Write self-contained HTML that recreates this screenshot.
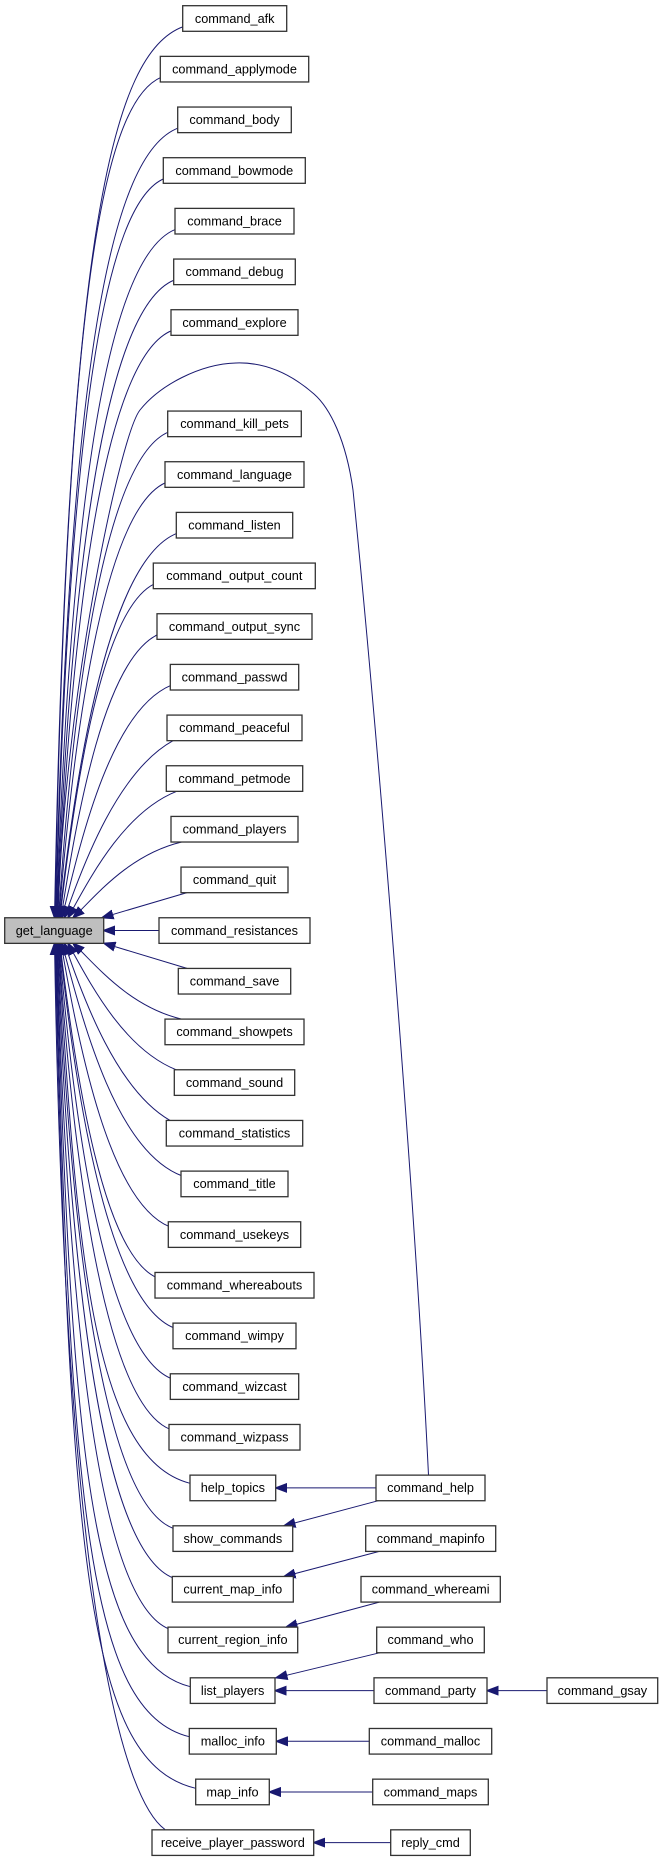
<!DOCTYPE html>
<html><head><meta charset="utf-8"><style>
html,body{margin:0;padding:0;background:#fff;}
svg{display:block;}
text{font-family:"Liberation Sans",Arial,sans-serif;font-size:12.7px;fill:#000;text-anchor:middle;}
rect{fill:#fff;stroke:#333;stroke-width:1.3;}
.e{fill:none;stroke:#191970;stroke-width:1;marker-end:url(#a);}
</style></head><body>
<svg width="672" height="1861" viewBox="0 0 672 1861" xmlns="http://www.w3.org/2000/svg">
<defs>
<marker id="a" markerUnits="userSpaceOnUse" markerWidth="12" markerHeight="10" viewBox="0 0 12 10" refX="11.5" refY="5" orient="auto"><path d="M0,0.5 L12,5 L0,9.5 z" fill="#191970" stroke="#191970" stroke-width="1"/></marker>
</defs>

<!-- upper edges -->
<path class="e" d="M183.7,26.5 C112.6,51.5 67.7,229.8 54.5,917.7"/>
<path class="e" d="M161.3,77.2 C102.8,102.2 66.5,296.3 55,917.7"/>
<path class="e" d="M178.7,127.8 C110.9,152.8 69.5,359.6 55.5,917.7"/>
<path class="e" d="M164.3,178.5 C104.7,203.5 69,419.6 56,917.7"/>
<path class="e" d="M176,229.2 C110.3,254.2 71.5,476.3 56.5,917.7"/>
<path class="e" d="M174.7,279.9 C110,304.9 72.5,529.7 57,917.7"/>
<path class="e" d="M172,330.5 C109,355.5 73.2,579.6 57.5,917.7"/>
<path class="e" d="M428.5,1475 C415,1200 380,760 353,490 C346,440 330,408 314,394 C290,373 264,362 236,363 C200,364 160,385 140,410 C120,435 64,700 58,917.7"/>
<path class="e" d="M168.7,431.9 C108.1,456.9 74.9,670.1 58.5,917.7"/>
<path class="e" d="M166,482.5 C107.2,507.5 75.6,709.9 59,917.7"/>
<path class="e" d="M177.3,533.2 C112.5,558.2 78.4,746.8 59.5,917.7"/>
<path class="e" d="M154.3,583.9 C102.4,608.9 75.7,780.3 60,917.7"/>
<path class="e" d="M158,634.5 C104.7,659.5 77.7,810.5 61,917.7"/>
<path class="e" d="M171.3,685.2 C111.2,710.2 81.4,837.4 62,917.7"/>
<path class="e" d="M173,740.7 C118.7,770.7 84,861.4 64.5,917.7"/>
<path class="e" d="M176.7,791.3 C122.4,812.8 88.2,881.6 68,917.7"/>
<path class="e" d="M181.7,842 C127.4,854.9 93.7,898.5 73,917.7"/>
<path class="e" d="M187,892.6 L102,917.7"/>
<path class="e" d="M159,930.5 L103.7,930.5"/>
<path class="e" d="M187,968.4 L104,943.3"/>

<!-- lower edges -->
<path class="e" d="M181.7,1019.1 C127.4,1006.2 93.9,962.5 73,943.3"/>
<path class="e" d="M176.3,1069.8 C122.2,1048.3 88.1,979.4 68,943.3"/>
<path class="e" d="M170,1120.4 C117.3,1090.4 83.5,999.6 64.5,943.3"/>
<path class="e" d="M182,1175.9 C116,1150.9 83.3,1023.6 62,943.3"/>
<path class="e" d="M169.3,1226.6 C109.7,1201.6 79.6,1050.5 61,943.3"/>
<path class="e" d="M156,1277.3 C103.2,1252.3 76,1080.8 60,943.3"/>
<path class="e" d="M174,1327.9 C111,1302.9 77.8,1114.3 59.5,943.3"/>
<path class="e" d="M171.3,1378.6 C109.5,1353.6 76.4,1151.1 59,943.3"/>
<path class="e" d="M170,1429.3 C108.7,1404.3 75.1,1191.3 58.5,943.3"/>
<path class="e" d="M190,1483.3 C91,1458.3 76.4,1241.3 58,943.3"/>
<path class="e" d="M173,1528.3 C109.5,1503.3 73,1283.1 57.5,943.3"/>
<path class="e" d="M173.3,1578 C109.3,1553 72,1332.2 57,943.3"/>
<path class="e" d="M169,1629 C107.1,1604 70.4,1386.1 56.5,943.3"/>
<path class="e" d="M190.3,1686.7 C89.6,1661.7 71.7,1450.9 56,943.3"/>
<path class="e" d="M189.3,1736.7 C89,1711.7 70.4,1510.6 55.5,943.3"/>
<path class="e" d="M195.7,1788.3 C90.2,1763.3 69.8,1575.6 55,943.3"/>
<path class="e" d="M165,1829.5 C126.3,1801.5 65.6,1629.9 54.5,943.3"/>

<!-- column 2 edges -->
<path class="e" d="M376,1487.9 L275.7,1487.9"/>
<path class="e" d="M378.3,1500.7 L284,1525.8"/>
<path class="e" d="M379.3,1551.4 L284,1576.5"/>
<path class="e" d="M379.3,1602.1 L286,1627.1"/>
<path class="e" d="M380,1652.7 L276,1677.8"/>
<path class="e" d="M374,1690.6 L275,1690.6"/>
<path class="e" d="M547,1690.6 L487,1690.6"/>
<path class="e" d="M369.3,1741.3 L276.3,1741.3"/>
<path class="e" d="M372.7,1792 L269.3,1792"/>
<path class="e" d="M390.7,1842.6 L313.7,1842.6"/>

<!-- nodes column 1 -->
<rect x="182.7" y="5.7" width="104" height="25.6"/><text x="234.7" y="22.8">command_afk</text>
<rect x="160.3" y="56.37" width="148.4" height="25.6"/><text x="234.5" y="73.47">command_applymode</text>
<rect x="177.7" y="107.04" width="113.6" height="25.6"/><text x="234.5" y="124.14">command_body</text>
<rect x="163.3" y="157.71" width="142" height="25.6"/><text x="234.3" y="174.81">command_bowmode</text>
<rect x="175" y="208.38" width="119" height="25.6"/><text x="234.5" y="225.48">command_brace</text>
<rect x="173.7" y="259.05" width="121.6" height="25.6"/><text x="234.5" y="276.15">command_debug</text>
<rect x="171" y="309.72" width="127" height="25.6"/><text x="234.5" y="326.82">command_explore</text>
<rect x="167.7" y="411.06" width="133.6" height="25.6"/><text x="234.5" y="428.16">command_kill_pets</text>
<rect x="165" y="461.73" width="139" height="25.6"/><text x="234.5" y="478.83">command_language</text>
<rect x="176.3" y="512.4" width="116.4" height="25.6"/><text x="234.5" y="529.5">command_listen</text>
<rect x="153.3" y="563.07" width="162" height="25.6"/><text x="234.3" y="580.17">command_output_count</text>
<rect x="157" y="613.74" width="155" height="25.6"/><text x="234.5" y="630.84">command_output_sync</text>
<rect x="170.3" y="664.41" width="128.4" height="25.6"/><text x="234.5" y="681.51">command_passwd</text>
<rect x="167" y="715.08" width="135" height="25.6"/><text x="234.5" y="732.18">command_peaceful</text>
<rect x="166.3" y="765.75" width="136.4" height="25.6"/><text x="234.5" y="782.85">command_petmode</text>
<rect x="171" y="816.42" width="127" height="25.6"/><text x="234.5" y="833.52">command_players</text>
<rect x="181" y="867.09" width="107" height="25.6"/><text x="234.5" y="884.19">command_quit</text>
<rect x="159" y="917.76" width="151" height="25.6"/><text x="234.5" y="934.86">command_resistances</text>
<rect x="178.3" y="968.43" width="112.4" height="25.6"/><text x="234.5" y="985.53">command_save</text>
<rect x="165" y="1019.1" width="139" height="25.6"/><text x="234.5" y="1036.2">command_showpets</text>
<rect x="174.3" y="1069.77" width="120.4" height="25.6"/><text x="234.5" y="1086.87">command_sound</text>
<rect x="166.3" y="1120.44" width="136.4" height="25.6"/><text x="234.5" y="1137.54">command_statistics</text>
<rect x="181" y="1171.11" width="107" height="25.6"/><text x="234.5" y="1188.21">command_title</text>
<rect x="168.3" y="1221.78" width="132.4" height="25.6"/><text x="234.5" y="1238.88">command_usekeys</text>
<rect x="155" y="1272.45" width="159" height="25.6"/><text x="234.5" y="1289.55">command_whereabouts</text>
<rect x="173" y="1323.12" width="123" height="25.6"/><text x="234.5" y="1340.22">command_wimpy</text>
<rect x="170.3" y="1373.79" width="128.4" height="25.6"/><text x="234.5" y="1390.89">command_wizcast</text>
<rect x="169" y="1424.46" width="131" height="25.6"/><text x="234.5" y="1441.56">command_wizpass</text>
<rect x="190" y="1475.13" width="85.7" height="25.6"/><text x="232.85" y="1492.23">help_topics</text>
<rect x="173" y="1525.8" width="119.7" height="25.6"/><text x="232.85" y="1542.9">show_commands</text>
<rect x="172.3" y="1576.47" width="121" height="25.6"/><text x="232.8" y="1593.57">current_map_info</text>
<rect x="168" y="1627.14" width="129.7" height="25.6"/><text x="232.85" y="1644.24">current_region_info</text>
<rect x="190.3" y="1677.81" width="84.7" height="25.6"/><text x="232.65" y="1694.91">list_players</text>
<rect x="189.3" y="1728.48" width="87" height="25.6"/><text x="232.8" y="1745.58">malloc_info</text>
<rect x="195.7" y="1779.15" width="73.6" height="25.6"/><text x="232.5" y="1796.25">map_info</text>
<rect x="152" y="1829.82" width="161.7" height="25.6"/><text x="232.85" y="1846.92">receive_player_password</text>

<!-- root -->
<rect x="4.7" y="917.76" width="99" height="25.6" style="fill:#bfbfbf"/><text x="54.2" y="934.86">get_language</text>

<!-- column 2 -->
<rect x="376" y="1475.13" width="109" height="25.6"/><text x="430.5" y="1492.23">command_help</text>
<rect x="365.7" y="1525.8" width="130" height="25.6"/><text x="430.7" y="1542.9">command_mapinfo</text>
<rect x="361" y="1576.47" width="139.3" height="25.6"/><text x="430.65" y="1593.57">command_whereami</text>
<rect x="376.7" y="1627.14" width="107.6" height="25.6"/><text x="430.5" y="1644.24">command_who</text>
<rect x="374" y="1677.81" width="113" height="25.6"/><text x="430.5" y="1694.91">command_party</text>
<rect x="369.3" y="1728.48" width="122.4" height="25.6"/><text x="430.5" y="1745.58">command_malloc</text>
<rect x="372.7" y="1779.15" width="115.6" height="25.6"/><text x="430.5" y="1796.25">command_maps</text>
<rect x="390.7" y="1829.82" width="79.6" height="25.6"/><text x="430.5" y="1846.92">reply_cmd</text>

<!-- column 3 -->
<rect x="547" y="1677.81" width="110.7" height="25.6"/><text x="602.35" y="1694.91">command_gsay</text>
</svg>
</body></html>
